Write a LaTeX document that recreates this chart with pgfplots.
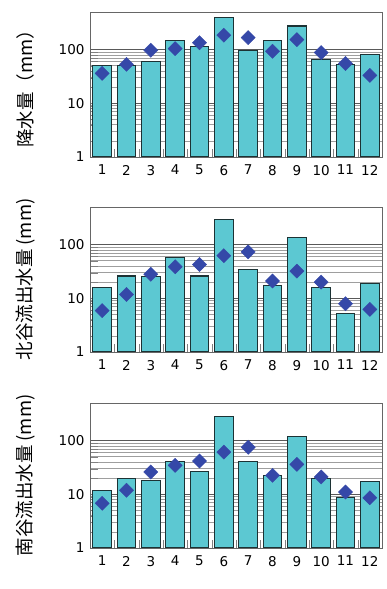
\documentclass[border=0pt]{standalone}
\usepackage{pgfplots}
\pgfplotsset{compat=1.18}
\usepackage{fontspec}
\setmainfont{DejaVu Sans}
\newfontfamily\jp{Noto Sans CJK JP}
\definecolor{barfill}{HTML}{5CC8D2}
\definecolor{baredge}{HTML}{1C3234}
\definecolor{dia}{HTML}{3548A8}

\pgfplotstableread{
m  val  dot
1  50    36
2  50    53
3  59    97
4  150   104
5  112   134
6  390   185
7  97    167
8  150   93
9  274   153
10 66    88
11 53    55
12 82    33
}\tabA
\pgfplotstableread{
m  val  dot
1  15.8 5.9
2  26   11.8
3  25   28
4  57   38.6
5  26   42.6
6  295  62
7  34   73
8  17   21
9  135  32
10 15.8 20
11 5.3  7.9
12 18.7 6.2
}\tabB
\pgfplotstableread{
m  val  dot
1  11.8 6.8
2  19.6 11.9
3  18.3 26
4  41   34.5
5  26.8 41.5
6  285  61
7  41   75
8  22   22.5
9  118  36
10 19.6 21
11 8.6  11
12 17.2 8.6
}\tabC

\pgfplotsset{
  every axis/.append style={
    scale only axis, width=292pt, height=145pt,
    anchor=south west,
    ymin=1, ymax=500, xmin=0.5, xmax=12.5,
    ytick={1,10,100},
    yticklabels={1,10,100},
    xtick={1,...,12},
    minor xtick={1.5,2.5,...,11.5},
    major tick length=0pt,
    minor tick length=8pt,
    tick align=inside,
    xtick pos=bottom, ytick pos=left,
    ymajorgrids, yminorgrids,
    major grid style={draw=black!65, line width=0.9pt},
    minor grid style={draw=black!38, line width=0.5pt},
    axis line style={draw=black!60, line width=0.9pt},
    tick label style={font=\fontsize{13.5}{14}\selectfont},
    xticklabel style={yshift=-4.5pt},
    yticklabel style={xshift=-2pt},
    ylabel style={at={(axis description cs:-0.22,0.5)}, anchor=center, font=\jp\fontsize{18.5}{19}\selectfont},
  },
  mybar/.style={ybar, bar width=18.5pt, bar shift=0pt, fill=barfill, draw=baredge, line width=1.1pt},
  mydot/.style={only marks, mark=square*, mark size=5pt, mark options={rotate=45, fill=dia, draw=dia}},
}
\pgfkeys{/pgf/number format/assume math mode=true}

\begin{document}
\begin{tikzpicture}
\useasboundingbox (0pt,0pt) rectangle (387pt,589pt);
\begin{semilogyaxis}[at={(90pt,432pt)}, ylabel={降水量（mm）}]
\addplot[mybar] table[x=m, y=val] {\tabA};
\addplot[mydot] table[x=m, y=dot] {\tabA};
\end{semilogyaxis}
\begin{semilogyaxis}[at={(90pt,237pt)}, ylabel={北谷流出水量 (mm)}]
\addplot[mybar] table[x=m, y=val] {\tabB};
\addplot[mydot] table[x=m, y=dot] {\tabB};
\end{semilogyaxis}
\begin{semilogyaxis}[at={(90pt,41pt)}, ylabel={南谷流出水量 (mm)}]
\addplot[mybar] table[x=m, y=val] {\tabC};
\addplot[mydot] table[x=m, y=dot] {\tabC};
\node[font=\jp\fontsize{14}{14}\selectfont, anchor=north] at (axis description cs:0.965,-0.17) {月};
\end{semilogyaxis}
\end{tikzpicture}
\end{document}
